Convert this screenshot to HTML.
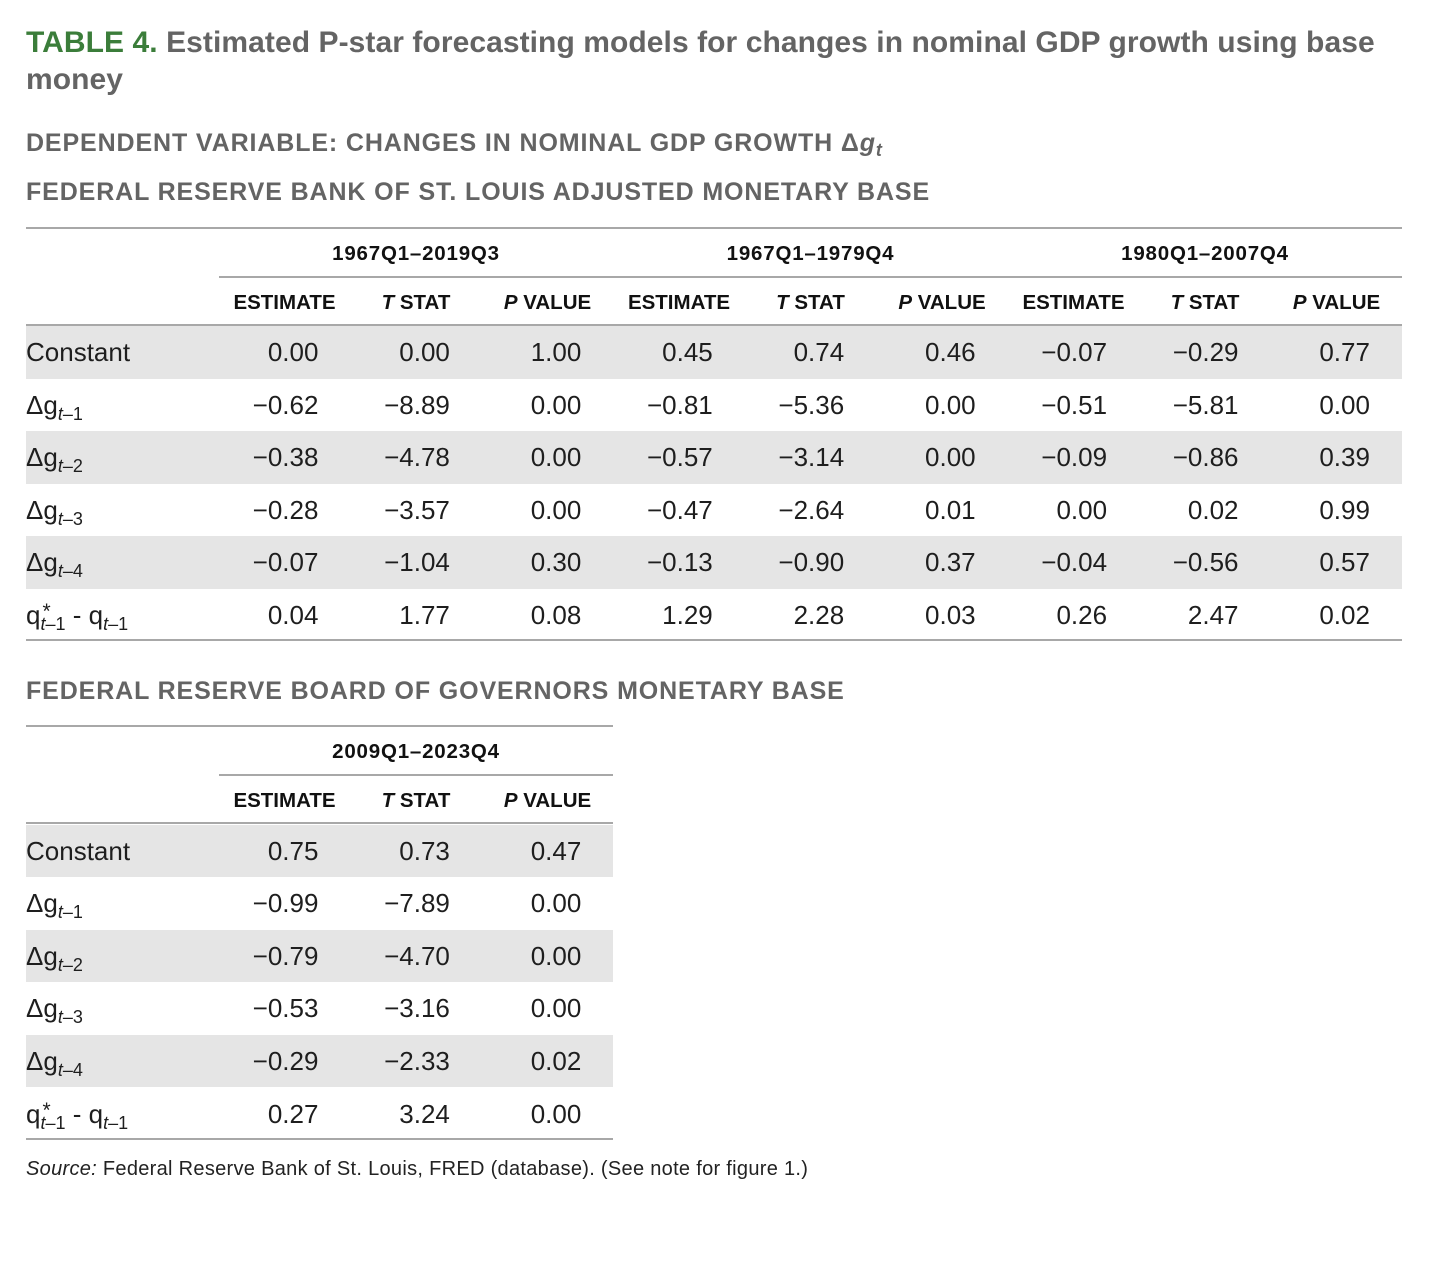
<!DOCTYPE html>
<html>
<head>
<meta charset="utf-8">
<style>
html,body{margin:0;padding:0;background:#fff;}
body{width:1440px;height:1261px;position:relative;overflow:hidden;font-family:"Liberation Sans",sans-serif;}
.t{position:absolute;white-space:nowrap;}
.title{left:26px;top:24px;font-size:30px;line-height:37px;font-weight:bold;color:#646464;letter-spacing:0.07px;}
.title .g{color:#3b7d3a;}
.h{left:26px;font-size:25px;line-height:30px;font-weight:bold;color:#646464;letter-spacing:0.88px;}
.rule{position:absolute;height:2px;background:#a8a8a8;}
.grp{position:absolute;font-size:20.5px;font-weight:bold;color:#111;text-align:center;letter-spacing:0.8px;line-height:30px;}
.ch{position:absolute;font-size:20.5px;font-weight:bold;color:#111;text-align:center;line-height:30px;}
.r{position:absolute;left:26px;height:52.6px;display:grid;font-size:26px;color:#1e1e1e;}
.r1{width:1376px;grid-template-columns:193px repeat(9,131.44px);}
.r2{width:587px;grid-template-columns:193px repeat(3,131.44px);}
.r.s{background:#e5e5e5;}
.r div{line-height:52.6px;text-align:right;padding-right:32px;white-space:nowrap;}
.r div.l{text-align:left;padding-right:0;}
.sb{font-size:18px;position:relative;top:6px;}
.ss{display:inline-block;position:relative;font-size:18px;top:6px;line-height:18px;}
.ss .st{position:absolute;left:2px;top:-14px;font-size:21px;line-height:21px;}
.src{left:26px;top:1156px;font-size:20px;line-height:26px;color:#222;letter-spacing:0.3px;}
</style>
</head>
<body>

<div class="t title"><span class="g">TABLE 4.</span> Estimated P-star forecasting models for changes in nominal GDP growth using base<br>money</div>

<div class="t h" style="top:128px;">DEPENDENT VARIABLE: CHANGES IN NOMINAL GDP GROWTH &#916;<i>g<span style="font-size:18px;position:relative;top:5px;">t</span></i></div>
<div class="t h" style="top:177px;">FEDERAL RESERVE BANK OF ST. LOUIS ADJUSTED MONETARY BASE</div>

<!-- Table 1 -->
<div class="rule" style="left:26px;top:227px;width:1376px;"></div>
<div class="grp" style="left:219px;top:239px;width:394px;">1967Q1–2019Q3</div>
<div class="grp" style="left:613px;top:239px;width:395px;">1967Q1–1979Q4</div>
<div class="grp" style="left:1008px;top:239px;width:394px;">1980Q1–2007Q4</div>
<div class="rule" style="left:219px;top:276px;width:1183px;"></div>

<div class="ch" style="left:219px;top:288px;width:131px;">ESTIMATE</div>
<div class="ch" style="left:350px;top:288px;width:132px;"><i>T</i> STAT</div>
<div class="ch" style="left:482px;top:288px;width:131px;"><i>P</i> VALUE</div>
<div class="ch" style="left:613px;top:288px;width:132px;">ESTIMATE</div>
<div class="ch" style="left:745px;top:288px;width:131px;"><i>T</i> STAT</div>
<div class="ch" style="left:876px;top:288px;width:132px;"><i>P</i> VALUE</div>
<div class="ch" style="left:1008px;top:288px;width:131px;">ESTIMATE</div>
<div class="ch" style="left:1139px;top:288px;width:132px;"><i>T</i> STAT</div>
<div class="ch" style="left:1271px;top:288px;width:131px;"><i>P</i> VALUE</div>
<div class="rule" style="left:26px;top:324px;width:1376px;"></div>

<div class="r r1 s" style="top:326px;"><div class="l">Constant</div><div>0.00</div><div>0.00</div><div>1.00</div><div>0.45</div><div>0.74</div><div>0.46</div><div>−0.07</div><div>−0.29</div><div>0.77</div></div>
<div class="r r1" style="top:378.6px;"><div class="l">&#916;g<span class="sb"><i>t</i>–1</span></div><div>−0.62</div><div>−8.89</div><div>0.00</div><div>−0.81</div><div>−5.36</div><div>0.00</div><div>−0.51</div><div>−5.81</div><div>0.00</div></div>
<div class="r r1 s" style="top:431.2px;"><div class="l">&#916;g<span class="sb"><i>t</i>–2</span></div><div>−0.38</div><div>−4.78</div><div>0.00</div><div>−0.57</div><div>−3.14</div><div>0.00</div><div>−0.09</div><div>−0.86</div><div>0.39</div></div>
<div class="r r1" style="top:483.8px;"><div class="l">&#916;g<span class="sb"><i>t</i>–3</span></div><div>−0.28</div><div>−3.57</div><div>0.00</div><div>−0.47</div><div>−2.64</div><div>0.01</div><div>0.00</div><div>0.02</div><div>0.99</div></div>
<div class="r r1 s" style="top:536.4px;"><div class="l">&#916;g<span class="sb"><i>t</i>–4</span></div><div>−0.07</div><div>−1.04</div><div>0.30</div><div>−0.13</div><div>−0.90</div><div>0.37</div><div>−0.04</div><div>−0.56</div><div>0.57</div></div>
<div class="r r1" style="top:589px;"><div class="l">q<span class="ss"><span class="st">*</span><i>t</i>–1</span> - q<span class="sb"><i>t</i>–1</span></div><div>0.04</div><div>1.77</div><div>0.08</div><div>1.29</div><div>2.28</div><div>0.03</div><div>0.26</div><div>2.47</div><div>0.02</div></div>
<div class="rule" style="left:26px;top:639px;width:1376px;"></div>

<div class="t h" style="top:676px;">FEDERAL RESERVE BOARD OF GOVERNORS MONETARY BASE</div>

<!-- Table 2 -->
<div class="rule" style="left:26px;top:725px;width:587px;"></div>
<div class="grp" style="left:219px;top:737px;width:394px;">2009Q1–2023Q4</div>
<div class="rule" style="left:219px;top:774px;width:394px;"></div>
<div class="ch" style="left:219px;top:786px;width:131px;">ESTIMATE</div>
<div class="ch" style="left:350px;top:786px;width:132px;"><i>T</i> STAT</div>
<div class="ch" style="left:482px;top:786px;width:131px;"><i>P</i> VALUE</div>
<div class="rule" style="left:26px;top:822px;width:587px;"></div>

<div class="r r2 s" style="top:824.5px;"><div class="l">Constant</div><div>0.75</div><div>0.73</div><div>0.47</div></div>
<div class="r r2" style="top:877.1px;"><div class="l">&#916;g<span class="sb"><i>t</i>–1</span></div><div>−0.99</div><div>−7.89</div><div>0.00</div></div>
<div class="r r2 s" style="top:929.7px;"><div class="l">&#916;g<span class="sb"><i>t</i>–2</span></div><div>−0.79</div><div>−4.70</div><div>0.00</div></div>
<div class="r r2" style="top:982.3px;"><div class="l">&#916;g<span class="sb"><i>t</i>–3</span></div><div>−0.53</div><div>−3.16</div><div>0.00</div></div>
<div class="r r2 s" style="top:1034.9px;"><div class="l">&#916;g<span class="sb"><i>t</i>–4</span></div><div>−0.29</div><div>−2.33</div><div>0.02</div></div>
<div class="r r2" style="top:1087.5px;"><div class="l">q<span class="ss"><span class="st">*</span><i>t</i>–1</span> - q<span class="sb"><i>t</i>–1</span></div><div>0.27</div><div>3.24</div><div>0.00</div></div>
<div class="rule" style="left:26px;top:1138px;width:587px;"></div>

<div class="t src"><i>Source:</i> Federal Reserve Bank of St. Louis, FRED (database). (See note for figure 1.)</div>

</body>
</html>
